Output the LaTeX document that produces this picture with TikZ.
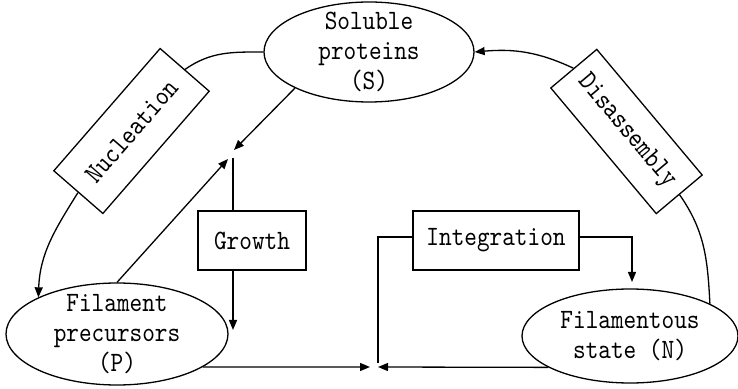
\documentclass[tikz,border=0pt]{standalone}
\usepackage{fontspec}
\newfontfamily\dfont{lmmono10-regular}[Extension=.otf, FakeStretch=0.86]
\usetikzlibrary{arrows.meta,shapes.geometric}
\begin{document}
\begin{tikzpicture}[x=1pt,y=1pt,
  every node/.style={font=\dfont\fontsize{28}{30}\selectfont, inner sep=0pt},
  state/.style={draw, ellipse, line width=1.3pt},
  proc/.style={draw, rectangle, line width=1.3pt},
  link/.style={line width=1.3pt},
  arr/.style={link, -{Triangle[length=10pt,width=8pt]}}]
\useasboundingbox (0,0) rectangle (738,388);
\fill[white] (0,0) rectangle (738,388);
\node[state, minimum width=210pt, minimum height=100pt,
  label={[align=center]center:Soluble\\proteins\\(S)}] (S) at (369,336) {};
\node[state, minimum width=222pt, minimum height=102pt,
  label={[align=center]center:Filament\\precursors\\(P)}] (P) at (117,54) {};
\node[state, minimum width=216pt, minimum height=94pt,
  label={[align=center]center:Filamentous\\state (N)}] (N) at (630,52) {};
\node[proc, rotate=49, minimum width=162pt, minimum height=65pt] (Nuc) at (131.5,257) {Nucleation};
\node[proc, rotate=-50, minimum width=164pt, minimum height=60pt] (Dis) at (626.5,256.5) {Disassembly};
\node[proc, minimum width=108pt, minimum height=59pt] (G) at (252,147.5) {Growth};
\node[proc, minimum width=166pt, minimum height=59pt] (Int) at (496,147.5) {Integration};
\coordinate (gs) at (234,238);
\coordinate (gp) at (228,229);
\coordinate (gj) at (233,230);
\coordinate (ge) at (233,58);
\coordinate (bl) at (370,21);
\coordinate (br) at (378,21);
\coordinate (ij) at (378,25);
\coordinate (nt) at (632,106);
\draw[arr] (S.206) -- (gs);
\draw[arr] (P.north) -- (gp);
\draw[link] (gj) -- (gj |- G.north);
\draw[arr] (gj |- G.south) -- (ge);
\draw[arr] (P.-21.3) -- (bl);
\draw[arr] (N.201) -- (br);
\draw[link] ([yshift=3.5pt]Int.west) -| (ij);
\draw[arr] ([yshift=3.5pt]Int.east) -| (nt);
\draw[link] (S.west) to[out=180,in=35] (Nuc.east);
\draw[arr] (Nuc.west) to[out=238,in=88] (P.155);
\draw[link] (N.22) to[out=93,in=-55] (Dis.east);
\draw[arr] (Dis.west) to[out=155,in=5] (S.east);
\end{tikzpicture}
\end{document}
